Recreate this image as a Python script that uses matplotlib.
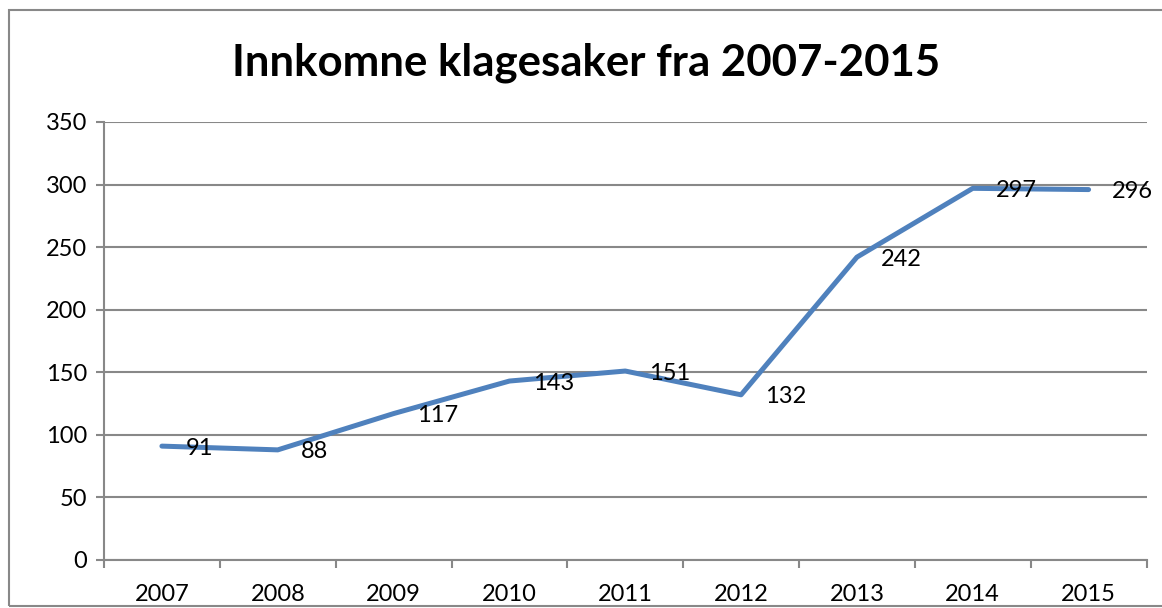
import matplotlib
matplotlib.use("Agg")
import matplotlib.pyplot as plt
from matplotlib.patches import Rectangle
from matplotlib.ticker import FixedLocator

years = ["2007", "2008", "2009", "2010", "2011", "2012", "2013", "2014", "2015"]
cases = [91, 88, 117, 143, 151, 132, 242, 297, 296]
y_ticks = [0, 50, 100, 150, 200, 250, 300, 350]
title = "Innkomne klagesaker fra 2007-2015"

plt.rcParams['font.family'] = ['Lato', 'DejaVu Sans']

W, H = 1162, 608
fig = plt.figure(figsize=(W / 100, H / 100), dpi=100)

# outer chart frame
fig.patches.append(Rectangle((9 / W, 2 / H), 1.2, (598 - 2) / H, transform=fig.transFigure,
                             fill=False, edgecolor="#888888", linewidth=1.5))

ax = fig.add_axes([104 / W, 48 / H, (1146.5 - 104) / W, (560 - 122) / H])
x = list(range(len(years)))
ax.plot(x, cases, color="#4F81BD", linewidth=3.6, solid_capstyle="round", solid_joinstyle="round", zorder=3)

for xi, v in zip(x, cases):
    ax.annotate(str(v), (xi, v), xytext=(17, -1.5), textcoords="offset points",
                ha="left", va="center", fontsize=17, color="black", zorder=4)

ax.set_xlim(-0.5, len(years) - 0.5)
ax.set_ylim(0, 350)
ax.set_yticks(y_ticks)
ax.set_yticklabels([str(t) for t in y_ticks])
ax.set_xticks(x)
ax.set_xticklabels(years)
ax.xaxis.set_minor_locator(FixedLocator([i - 0.5 for i in range(len(years) + 1)]))
ax.tick_params(axis="x", which="major", length=0, labelsize=17, pad=17)
ax.tick_params(axis="x", which="minor", length=6, width=1.5, color="#888888")
ax.tick_params(axis="y", which="major", length=6, width=1.5, color="#888888", labelsize=17, pad=6)

ax.grid(axis="y", color="#888888", linewidth=1.5)
ax.set_axisbelow(True)
for s in ["top", "right"]:
    ax.spines[s].set_visible(False)
for s in ["left", "bottom"]:
    ax.spines[s].set_color("#888888")
    ax.spines[s].set_linewidth(1.5)

fig.text(586 / W, 1 - 63 / H, title, ha="center", va="center", fontsize=31.5, fontweight="bold")

fig.savefig("out.png", dpi=100)
